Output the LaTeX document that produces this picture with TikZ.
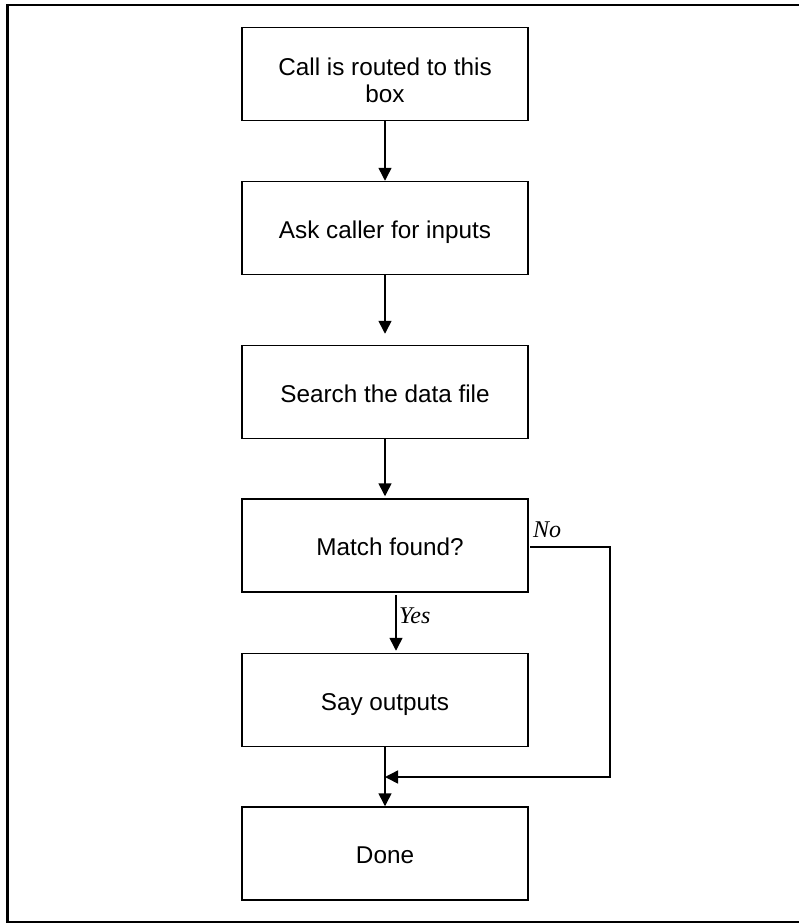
\documentclass[tikz,border=0pt]{standalone}
\usepackage{fontspec}
\setmainfont{Liberation Sans}
\newfontfamily\tmsfont{Liberation Serif}
\usetikzlibrary{arrows.meta}
\tikzset{
  stepbox/.style={draw, line width=1.5pt, rectangle, minimum width=286pt, minimum height=93pt,
    inner sep=0pt, font=\fontsize{24.3}{27}\selectfont, align=center},
  onel/.style={text height=20pt, text depth=0pt},
  arr/.style={line width=1.5pt, -{Triangle[width=13pt,length=13pt]}},
  lbl/.style={font=\tmsfont\itshape\fontsize{24}{27}\selectfont, inner sep=0pt}
}
\begin{document}
\begin{tikzpicture}[x=1pt,y=-1pt]
\useasboundingbox (0,0) rectangle (799,924);
\draw[line width=2.2pt] (7.5,5.3) rectangle (803,922.3);
\node[stepbox] (b1) at (385,74) {\rule{0pt}{30pt}Call is routed to this\\box};
\node[stepbox,onel] (b2) at (385,228) {Ask caller for inputs};
\node[stepbox,onel] (b3) at (385,392) {Search the data file};
\node[stepbox,onel] (b4) at (385,545.5) {\hspace*{10pt}Match found?};
\node[stepbox,onel] (b5) at (385,700) {Say outputs};
\node[stepbox,onel] (b6) at (385,853.5) {Done};
\coordinate (c1) at (610,547);
\coordinate (c2) at (610,777);
\draw[arr] (b1.south) -- (b2.north);
\draw[arr] (b2.south) -- ([yshift=11pt]b3.north);
\draw[arr] (b3.south) -- ([yshift=2pt]b4.north);
\draw[arr] ([xshift=11pt,yshift=-2pt]b4.south) -- ([xshift=11pt,yshift=2pt]b5.north);
\draw[arr] (b5.south) -- (b6.north);
\draw[arr, line cap=rect] ([xshift=2pt]b4.east |- c1) -- (c1) -- (c2) -- (c2 -| b6.north);
\node[lbl, anchor=base west] (no) at (533,537) {No};
\node[lbl, anchor=base west] (yes) at (399,623) {Yes};
\end{tikzpicture}
\end{document}
